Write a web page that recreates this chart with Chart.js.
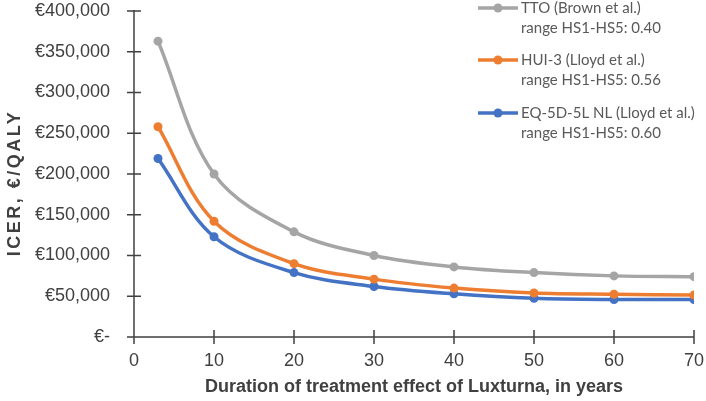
<!DOCTYPE html>
<html><head><meta charset="utf-8">
<script src="https://cdn.jsdelivr.net/npm/chart.js@4"></script>
<style>html,body{margin:0;padding:0;background:#fff}#wrap{width:706px;height:401px}</style>
</head><body><div id="wrap"><canvas id="c" width="706" height="401"></canvas></div>
<script>
const years = [3, 10, 20, 30, 40, 50, 60, 70];
const ttoValues = [363000, 200000, 129000, 100000, 86000, 79000, 75000, 74000];
const hui3Values = [258000, 142000, 90000, 71000, 60000, 54000, 52500, 51500];
const eq5dValues = [219000, 123000, 79000, 62000, 53000, 47500, 46000, 46000];
const seriesNames = ["TTO (Brown et al.)", "HUI-3 (Lloyd et al.)", "EQ-5D-5L NL (Lloyd et al.)"];
const seriesSubtitles = ["range HS1-HS5: 0.40", "range HS1-HS5: 0.56", "range HS1-HS5: 0.60"];
const xTitle = "Duration of treatment effect of Luxturna, in years";
const yTitle = "ICER, €/QALY";

const colors = ["#A5A5A5", "#ED7D31", "#4472C4"];
const axisColor = "#404040";
const fontFam = '"Liberation Sans", Arial, sans-serif';
const toXY = vals => years.map((x, i) => ({x: x, y: vals[i]}));

const crossTicks = {
  id: 'crossTicks',
  afterDatasetsDraw(chart) {
    const {ctx, scales: {x, y}, chartArea: a} = chart;
    ctx.save();
    ctx.strokeStyle = axisColor;
    ctx.lineWidth = 1.5;
    ctx.beginPath();
    ctx.moveTo(a.left, a.top - 1); ctx.lineTo(a.left, a.bottom);
    ctx.lineTo(a.right, a.bottom);
    y.ticks.forEach(t => { const p = y.getPixelForValue(t.value); ctx.moveTo(a.left - 7, p); ctx.lineTo(a.left + 7, p); });
    x.ticks.forEach(t => { const p = x.getPixelForValue(t.value); ctx.moveTo(p, a.bottom - 7); ctx.lineTo(p, a.bottom + 7); });
    ctx.stroke();
    // y axis title
    ctx.save();
    ctx.translate(15, 183);
    ctx.rotate(-Math.PI / 2);
    ctx.font = 'bold 18px ' + fontFam;
    if ('letterSpacing' in ctx) ctx.letterSpacing = '2.5px';
    ctx.fillStyle = axisColor;
    ctx.textAlign = 'center';
    ctx.textBaseline = 'middle';
    ctx.fillText(yTitle, 0, 0);
    ctx.restore();
    ctx.restore();
  }
};

const legendPlugin = {
  id: 'customLegend',
  afterDraw(chart) {
    const ctx = chart.ctx;
    const baseY = [8, 60, 113];
    ctx.save();
    ctx.font = '15px Lato, "Liberation Sans", sans-serif';
    ctx.textBaseline = 'middle';
    ctx.textAlign = 'left';
    chart.data.datasets.forEach((ds, i) => {
      const yy = baseY[i];
      ctx.strokeStyle = ds.borderColor; ctx.lineWidth = 3.5;
      ctx.beginPath(); ctx.moveTo(478, yy); ctx.lineTo(518, yy); ctx.stroke();
      ctx.fillStyle = ds.borderColor;
      ctx.beginPath(); ctx.arc(498, yy, 4.5, 0, Math.PI * 2); ctx.fill();
      ctx.fillStyle = '#595959';
      ctx.fillText(seriesNames[i], 521, yy);
      ctx.fillText(seriesSubtitles[i], 521, yy + 20);
    });
    ctx.restore();
  }
};

new Chart(document.getElementById('c'), {
  type: 'line',
  data: {
    datasets: [ttoValues, hui3Values, eq5dValues].map((v, i) => ({
      label: seriesNames[i],
      data: toXY(v),
      borderColor: colors[i],
      backgroundColor: colors[i],
      borderWidth: 3.5,
      pointRadius: 4.5,
      pointBorderWidth: 0,
      pointBackgroundColor: colors[i],
      tension: 0.35,
      fill: false
    }))
  },
  options: {
    responsive: false,
    animation: false,
    layout: {padding: {top: 11, right: 12, left: 0, bottom: 0}},
    plugins: {legend: {display: false}, tooltip: {enabled: false}},
    scales: {
      x: {
        type: 'linear', min: 0, max: 70,
        border: {display: false},
        grid: {display: false, drawTicks: false},
        ticks: {stepSize: 10, padding: 13, color: axisColor, font: {family: fontFam, size: 18}},
        title: {display: true, text: xTitle, color: axisColor, padding: {top: 0, bottom: 3}, font: {family: fontFam, size: 18, weight: 'bold'}},
        afterFit: s => { s.height = 64; s.paddingLeft = 0; s.paddingRight = 0; }
      },
      y: {
        min: 0, max: 400000,
        border: {display: false},
        grid: {display: false, drawTicks: false},
        ticks: {stepSize: 50000, padding: 24, color: axisColor,
          font: {family: fontFam, size: 18},
          callback: v => v === 0 ? '€-' : '€' + v.toLocaleString('en-US')},
        title: {display: false},
        afterFit: s => { s.width = 134; s.paddingTop = 0; s.paddingBottom = 0; }
      }
    }
  },
  plugins: [crossTicks, legendPlugin]
});
</script></body></html>
